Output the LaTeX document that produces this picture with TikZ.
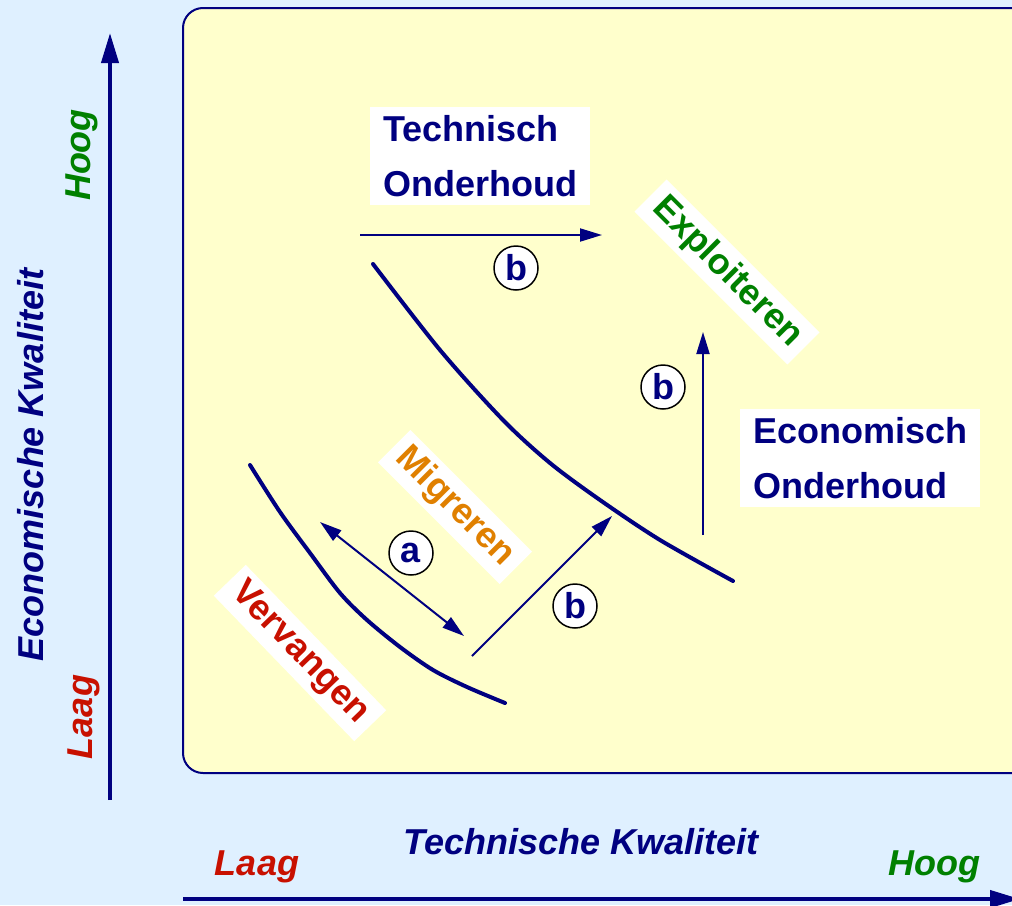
\documentclass[tikz,border=0pt]{standalone}
\usepackage{fontspec}
\setmainfont{Liberation Sans}
\usetikzlibrary{arrows.meta, positioning, calc}
\definecolor{bgblue}{RGB}{223,240,255}
\definecolor{paleyellow}{RGB}{255,255,204}
\definecolor{navy}{RGB}{0,0,128}
\definecolor{darkgreen}{RGB}{0,128,0}
\definecolor{darkred}{RGB}{200,16,0}
\definecolor{amber}{RGB}{224,128,0}

\begin{document}
\begin{tikzpicture}[
    x=0.5pt, y=-0.5pt,
    axis/.style={line width=2pt, draw=navy, -{Triangle[length=15pt,width=8.5pt]}},
    flow/.style={line width=1pt, draw=navy, -{Triangle[length=11pt,width=6.5pt]}},
    curve/.style={line width=2pt, draw=navy, line cap=round},
    textbox/.style={fill=white, text=navy, align=left, inner xsep=4pt, minimum height=49pt, font=\bfseries\fontsize{18}{27.5}\selectfont},
    tag/.style={fill=white, inner xsep=5pt, inner ysep=3pt, font=\bfseries\fontsize{18}{22}\selectfont},
    badge/.style={circle, draw=black, line width=0.75pt, fill=white, text=navy, minimum size=22pt, inner sep=0pt, font=\bfseries\fontsize{18}{18}\selectfont},
    axlabel/.style={anchor=base, font=\bfseries\itshape\fontsize{18}{18}\selectfont}
]

    % Background and frame
    \fill [bgblue] (0,0) rectangle (1012,905);
    \useasboundingbox (0,0) rectangle (1012,905);
    \clip (0,0) rectangle (1012,905);
    \draw [navy, line width=1pt, fill=paleyellow, rounded corners=10pt] (183,8) rectangle (1045,773);

    % Axes
    \coordinate (yfoot) at (110,800);
    \coordinate (ytip) at (110,33);
    \coordinate (xfoot) at (183,899);
    \coordinate (xtip) at (1020,899);
    \draw [axis] (yfoot) -- (ytip);
    \draw [axis] (xfoot) -- (xtip);

    \node [axlabel, rotate=90, text=navy] (ylabel) at (43,465) {Economische Kwaliteit};
    \node [axlabel, rotate=90, text=darkgreen] (yhigh) at (90,155) {Hoog};
    \node [axlabel, rotate=90, text=darkred] (ylow) at (92,717) {Laag};
    \node [axlabel, text=navy] (xlabel) at (581,854) {Technische Kwaliteit};
    \node [axlabel, text=darkred] (xlow) at (257,875) {Laag};
    \node [axlabel, text=darkgreen] (xhigh) at (934,875) {Hoog};

    % Boundary curves
    \draw [curve] plot [smooth] coordinates {(373,264) (440,350) (503,420) (550,463) (600,500) (660,540) (733,581)};
    \draw [curve] plot [smooth] coordinates {(250,465) (280,512) (310,553) (340,593) (367,620) (400,647) (433,670) (467,687) (505,703)};

    % Strategy labels
    \node [textbox, anchor=north west, minimum width=110pt] (technisch) at (370,107) {Technisch\\Onderhoud};
    \node [textbox, anchor=north west, minimum width=120pt] (economisch) at (740,409) {Economisch\\Onderhoud};
    \node [tag, rotate=-45, text=darkgreen] (exploiteren) at (727,272) {Exploiteren};
    \node [tag, rotate=-45, text=amber] (migreren) at (455,507) {Migreren};
    \node [tag, rotate=-46, text=darkred] (vervangen) at (300,653) {Vervangen};

    % Moves
    \coordinate (topstart) at (360,235);
    \coordinate (topend) at (602,235);
    \coordinate (upstart) at (703,535);
    \coordinate (upend) at (703,332);
    \coordinate (diagstart) at (472,656);
    \coordinate (diagend) at (612,516);
    \coordinate (swapa) at (320,522);
    \coordinate (swapb) at (464,636);
    \draw [flow] (topstart) -- (topend);
    \draw [flow] (upstart) -- (upend);
    \draw [flow] (diagstart) -- (diagend);
    \draw [flow, {Triangle[length=11pt,width=6.5pt]}-{Triangle[length=11pt,width=6.5pt]}] (swapa) -- (swapb);

    \node [badge] (btop) at (516,268) {b};
    \node [badge] (bup) at (663,387) {b};
    \node [badge] (bdiag) at (575,606) {b};
    \node [badge] (aswap) at (411,553) {a};

\end{tikzpicture}
\end{document}
